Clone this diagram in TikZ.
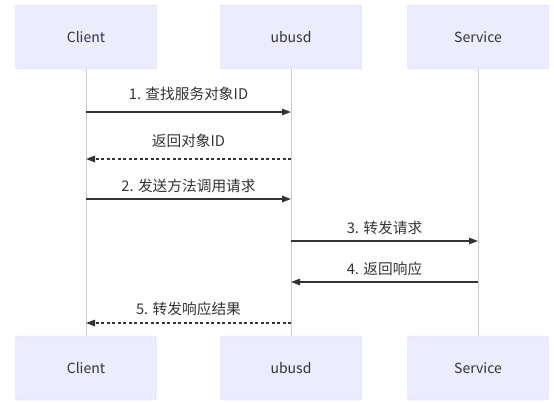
\documentclass[tikz,border=0pt]{standalone}
\usepackage{fontspec}
\setmainfont{Noto Sans CJK SC}
\usetikzlibrary{arrows.meta,positioning,calc}

\definecolor{actorfill}{HTML}{ECECFF}
\definecolor{actorline}{HTML}{D6D0F4}
\definecolor{lifegray}{HTML}{CCCCCC}
\definecolor{msgcol}{HTML}{333333}

\tikzset{
  actor/.style={draw=actorline, fill=actorfill, rounded corners=2pt,
    minimum width=141pt, minimum height=64pt, text=msgcol,
    font=\fontsize{14}{16}\selectfont},
  lifeline/.style={draw=lifegray, line width=1pt},
  msg/.style={draw=msgcol, line width=1.3pt, -{Triangle[length=9pt,width=6.5pt]}},
  reply/.style={msg, dash pattern=on 3pt off 2.5pt},
  msglabel/.style={text=msgcol, inner sep=0pt, font=\fontsize{14.7}{17}\selectfont}
}

\begin{document}
\begin{tikzpicture}[x=1pt,y=-1pt]
  \useasboundingbox (0,0) rectangle (554,402);

  % participants, top row
  \node[actor] (client) at (86,37) {Client};
  \node[actor] (ubusd) at (291,37) {ubusd};
  \node[actor] (service) at (478,37) {Service};

  % participants, bottom row
  \node[actor] (clientB) at (86,368) {Client};
  \node[actor] (ubusdB) at (291,368) {ubusd};
  \node[actor] (serviceB) at (478,368) {Service};

  % lifelines
  \draw[lifeline] (client) -- (clientB);
  \draw[lifeline] (ubusd) -- (ubusdB);
  \draw[lifeline] (service) -- (serviceB);

  % message rows
  \coordinate (m1) at (0,112);
  \coordinate (m2) at (0,159);
  \coordinate (m3) at (0,199);
  \coordinate (m4) at (0,241);
  \coordinate (m5) at (0,282);
  \coordinate (m6) at (0,323);

  % messages
  \draw[msg] (client |- m1) -- node[msglabel, above=11pt] (l1) {1. 查找服务对象ID} (ubusd |- m1);
  \draw[reply] (ubusd |- m2) -- node[msglabel, above=11pt] (l2) {返回对象ID} (client |- m2);
  \draw[msg] (client |- m3) -- node[msglabel, above=6pt] (l3) {2. 发送方法调用请求} (ubusd |- m3);
  \draw[msg] (ubusd |- m4) -- node[msglabel, above=6pt] (l4) {3. 转发请求} (service |- m4);
  \draw[msg] (service |- m5) -- node[msglabel, above=6pt] (l5) {4. 返回响应} (ubusd |- m5);
  \draw[reply] (ubusd |- m6) -- node[msglabel, above=7pt] (l6) {5. 转发响应结果} (client |- m6);
\end{tikzpicture}
\end{document}
